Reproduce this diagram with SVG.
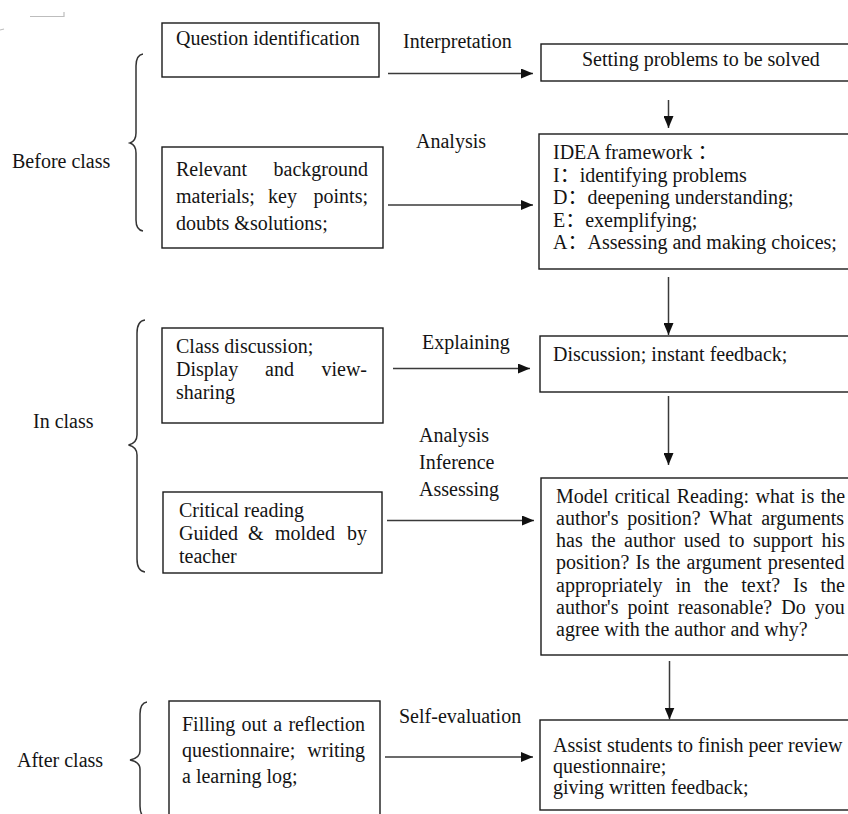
<svg xmlns="http://www.w3.org/2000/svg" width="848" height="814" viewBox="0 0 848 814">
  <style>
    .box { fill: #ffffff; stroke: #1a1a1a; stroke-width: 1.4; }
    .t { font-family: "Liberation Serif", "Noto Sans CJK SC", serif; font-size: 20px; fill: #141414; }
    .link { stroke: #3a3a3a; stroke-width: 1.5; fill: none; }
    .brace { stroke: #333333; stroke-width: 1.5; fill: none; }
    .mark { stroke: #bdbdbd; stroke-width: 1.2; fill: none; }
  </style>
  <defs>
    <marker id="arrow" markerUnits="userSpaceOnUse" markerWidth="12" markerHeight="10" refX="12" refY="5" orient="auto">
      <path d="M0,0 L12,5 L0,10 Z" fill="#111111"/>
    </marker>
  </defs>

  <rect x="0" y="0" width="848" height="814" fill="#ffffff"/>

  <!-- small corner marks near the top-left edge -->
  <g id="corner-marks">
    <path class="mark" d="M30,16.5 H64 M64,12 V17"/>
    <path class="mark" d="M0,30 L4,29"/>
  </g>

  <!-- stage labels and braces -->
  <g id="stage-before">
    <text class="t" x="12" y="168">Before class</text>
    <path class="brace" d="M143,54 Q136,55 136,66 L136,133 Q136,141 130,143 Q136,145 136,153 L136,220 Q136,230 143,231"/>
  </g>
  <g id="stage-in">
    <text class="t" x="33" y="428">In class</text>
    <path class="brace" d="M145,320 Q137,321 137,333 L137,435 Q137,443 128.5,445 Q137,447 137,455 L137,559 Q137,571 145,572"/>
  </g>
  <g id="stage-after">
    <text class="t" x="17" y="767">After class</text>
    <path class="brace" d="M147,702 Q140,703 140,714 L140,751 Q140,758 130,760 Q140,762 140,769 L140,806 Q140,817 147,818"/>
  </g>

  <!-- left column -->
  <g id="question-identification">
    <rect class="box" x="162" y="23" width="217" height="54"/>
    <text class="t" x="176" y="45">Question identification</text>
  </g>
  <g id="background-materials">
    <rect class="box" x="162" y="147" width="221" height="101"/>
    <text class="t" x="176" y="176">Relevant</text>
    <text class="t" x="368" y="176" text-anchor="end">background</text>
    <text class="t" x="176" y="203">materials;</text>
    <text class="t" x="268" y="203">key</text>
    <text class="t" x="368" y="203" text-anchor="end">points;</text>
    <text class="t" x="176" y="230">doubts &amp;solutions;</text>
  </g>
  <g id="class-discussion">
    <rect class="box" x="162" y="328" width="221" height="95"/>
    <text class="t" x="176" y="353">Class discussion;</text>
    <text class="t" x="176" y="376">Display</text>
    <text class="t" x="265" y="376">and</text>
    <text class="t" x="367" y="376" text-anchor="end">view-</text>
    <text class="t" x="176" y="399">sharing</text>
  </g>
  <g id="critical-reading">
    <rect class="box" x="163" y="492" width="219" height="81"/>
    <text class="t" x="179" y="517">Critical reading</text>
    <text class="t" x="179" y="540">Guided</text>
    <text class="t" x="248" y="540">&amp;</text>
    <text class="t" x="275" y="540">molded</text>
    <text class="t" x="367" y="540" text-anchor="end">by</text>
    <text class="t" x="179" y="563">teacher</text>
  </g>
  <g id="reflection">
    <rect class="box" x="169" y="701" width="211" height="130"/>
    <text class="t" x="182" y="731" word-spacing="1.2">Filling out a reflection</text>
    <text class="t" x="182" y="757" word-spacing="7">questionnaire; writing</text>
    <text class="t" x="182" y="783">a learning log;</text>
  </g>

  <!-- right column -->
  <g id="setting-problems">
    <rect class="box" x="541" y="44" width="320" height="37"/>
    <text class="t" x="582" y="66">Setting problems to be solved</text>
  </g>
  <g id="idea-framework">
    <rect class="box" x="539" y="134" width="320" height="135"/>
    <text class="t" x="553" y="159">IDEA framework ：</text>
    <text class="t" x="553" y="181.5">I：identifying problems</text>
    <text class="t" x="553" y="204">D：deepening understanding;</text>
    <text class="t" x="553" y="226.5">E：exemplifying;</text>
    <text class="t" x="553" y="249">A：Assessing and making choices;</text>
  </g>
  <g id="discussion-feedback">
    <rect class="box" x="540" y="336" width="320" height="56"/>
    <text class="t" x="553" y="361">Discussion; instant feedback;</text>
  </g>
  <g id="model-critical-reading">
    <rect class="box" x="541" y="478" width="320" height="177"/>
    <text class="t" x="556" y="503" word-spacing="1.5">Model critical Reading: what is the</text>
    <text class="t" x="556" y="525" word-spacing="3.8">author's position? What arguments</text>
    <text class="t" x="556" y="547" word-spacing="3.5">has the author used to support his</text>
    <text class="t" x="556" y="569" word-spacing="1.1">position? Is the argument presented</text>
    <text class="t" x="556" y="592" word-spacing="7.9">appropriately in the text? Is the</text>
    <text class="t" x="556" y="614" word-spacing="4.1">author's point reasonable? Do you</text>
    <text class="t" x="556" y="636">agree with the author and why?</text>
  </g>
  <g id="peer-review">
    <rect class="box" x="540" y="720" width="320" height="90"/>
    <text class="t" x="553" y="752">Assist students to finish peer review</text>
    <text class="t" x="553" y="773">questionnaire;</text>
    <text class="t" x="553" y="794">giving written feedback;</text>
  </g>

  <!-- connectors and their labels -->
  <g id="connectors">
    <line class="link" x1="388" y1="73.5" x2="533" y2="73.5" marker-end="url(#arrow)"/>
    <line class="link" x1="388" y1="205" x2="533" y2="205" marker-end="url(#arrow)"/>
    <line class="link" x1="393" y1="368.5" x2="530" y2="368.5" marker-end="url(#arrow)"/>
    <line class="link" x1="387" y1="520.5" x2="534" y2="520.5" marker-end="url(#arrow)"/>
    <line class="link" x1="385" y1="757" x2="533" y2="757" marker-end="url(#arrow)"/>

    <line class="link" x1="668.5" y1="100" x2="668.5" y2="128" marker-end="url(#arrow)"/>
    <line class="link" x1="668.5" y1="277" x2="668.5" y2="335" marker-end="url(#arrow)"/>
    <line class="link" x1="668.5" y1="396" x2="668.5" y2="465" marker-end="url(#arrow)"/>
    <line class="link" x1="669.5" y1="661" x2="669.5" y2="719.5" marker-end="url(#arrow)"/>

    <text class="t" x="403" y="48">Interpretation</text>
    <text class="t" x="416" y="148">Analysis</text>
    <text class="t" x="422" y="349">Explaining</text>
    <text class="t" x="419" y="442">Analysis</text>
    <text class="t" x="419" y="469">Inference</text>
    <text class="t" x="419" y="496">Assessing</text>
    <text class="t" x="399" y="723">Self-evaluation</text>
  </g>
</svg>
